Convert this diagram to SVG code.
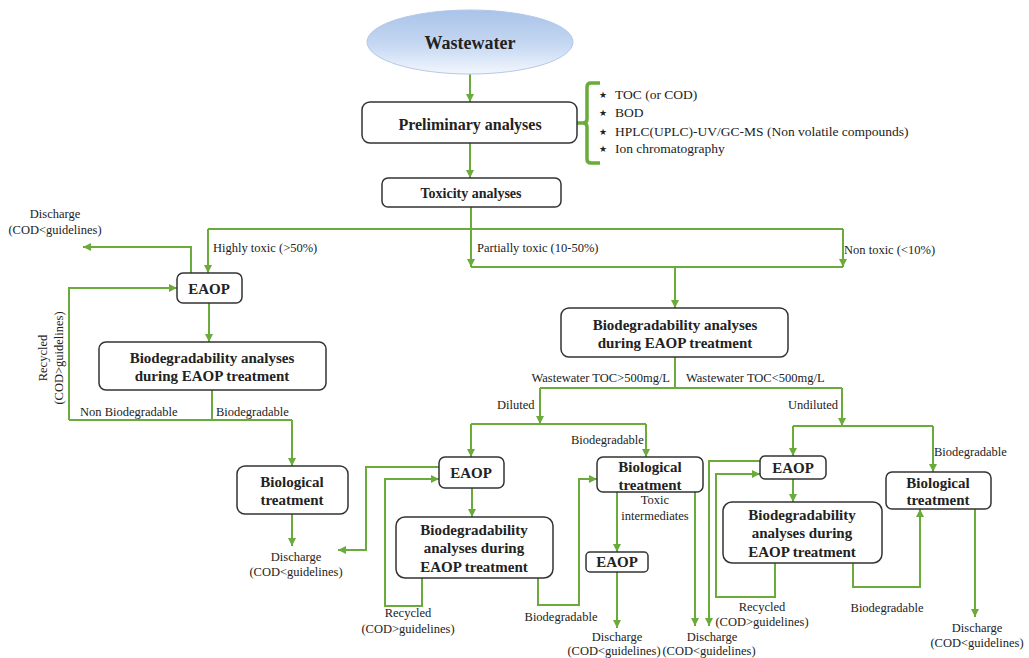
<svg xmlns="http://www.w3.org/2000/svg" width="1029" height="658" viewBox="0 0 1029 658">
<defs>
<linearGradient id="ww" x1="0" y1="0" x2="0" y2="1">
<stop offset="0" stop-color="#a9c3e9"/>
<stop offset="0.55" stop-color="#c6d8f2"/>
<stop offset="1" stop-color="#f3f7fd"/>
</linearGradient>
<marker id="ar" markerUnits="userSpaceOnUse" markerWidth="9" markerHeight="9" refX="8" refY="4" orient="auto">
<path d="M0,0 L8,4 L0,8 z" fill="#6aab3b"/>
</marker>
<style>
.box{fill:#fff;stroke:#333;stroke-width:1.5}
.c{fill:none;stroke:#6aab3b;stroke-width:2}
.a{marker-end:url(#ar)}
.t{font-family:"Liberation Serif","Times New Roman",serif;fill:#222}
.b{font-weight:bold;font-size:15px;text-anchor:middle}
.s{font-size:12.5px}
.m{text-anchor:middle}
</style>
</defs>
<rect width="1029" height="658" fill="#fff"/>

<g id="connectors">
<path class="c a" d="M470,74 V102"/>
<path class="c a" d="M470,143 V178"/>
<path d="M600,83 H591 Q587,83 587,87 V119 Q587,123 583,123 H574 M583,123 Q587,123 587,127 V159 Q587,163 591,163 H600" fill="none" stroke="#6aab3b" stroke-width="3.5"/>
<path class="c" d="M471,207 V229 M208,229 H843 M471,267 H843"/>
<path class="c a" d="M208,229 V273"/>
<path class="c a" d="M471,229 V267"/>
<path class="c a" d="M843,229 V267"/>
<path class="c a" d="M675,267 V308"/>
<path class="c a" d="M191,273 V247 H83"/>
<path class="c a" d="M209,303 V342"/>
<path class="c" d="M212,390 V420 M69,420 H292"/>
<path class="c a" d="M292,420 V466"/>
<path class="c a" d="M69,420 V288 H177"/>
<path class="c a" d="M292,514 V546"/>
<path class="c" d="M675,357 V388 M540,388 H842"/>
<path class="c a" d="M540,388 V424"/>
<path class="c a" d="M842,388 V426"/>
<path class="c" d="M471,424 H646"/>
<path class="c a" d="M471,424 V457"/>
<path class="c a" d="M646,424 V457"/>
<path class="c a" d="M439,467 H366 V550 H338"/>
<path class="c a" d="M422,578 V606 H385 V479 H439"/>
<path class="c a" d="M472,488 V517"/>
<path class="c a" d="M538,578 V605 H579 V479 H597"/>
<path class="c a" d="M617,492 V552"/>
<path class="c a" d="M617,572 V628"/>
<path class="c a" d="M695,492 V626"/>
<path class="c" d="M793,426 H933"/>
<path class="c a" d="M793,426 V456"/>
<path class="c a" d="M933,426 V472"/>
<path class="c a" d="M760,461 H709 V626"/>
<path class="c a" d="M775,563 V597 H716 V474 H760"/>
<path class="c a" d="M793,479 V502"/>
<path class="c a" d="M853,563 V587 H920 V509"/>
<path class="c a" d="M975,509 V617"/>
</g>

<g id="wastewater">
<ellipse cx="470" cy="42" rx="103" ry="32" fill="url(#ww)" stroke="#b3c9ea" stroke-width="1"/>
<text class="t" x="470" y="49" font-size="18" font-weight="bold" text-anchor="middle">Wastewater</text>
</g>

<g id="preliminary">
<rect class="box" x="362" y="102" width="215" height="41" rx="8"/>
<text class="t" x="470" y="130" font-size="16" font-weight="bold" text-anchor="middle">Preliminary analyses</text>
</g>

<g id="analyses-list">
<text x="603" y="98" font-family="DejaVu Sans,sans-serif" font-size="9" text-anchor="middle" fill="#222">★</text>
<text x="603" y="116" font-family="DejaVu Sans,sans-serif" font-size="9" text-anchor="middle" fill="#222">★</text>
<text x="603" y="135" font-family="DejaVu Sans,sans-serif" font-size="9" text-anchor="middle" fill="#222">★</text>
<text x="603" y="152" font-family="DejaVu Sans,sans-serif" font-size="9" text-anchor="middle" fill="#222">★</text>
<text class="t" x="615" y="99" font-size="13.5">TOC (or COD)</text>
<text class="t" x="615" y="117" font-size="13.5">BOD</text>
<text class="t" x="615" y="136" font-size="13.5">HPLC(UPLC)-UV/GC-MS (Non volatile compounds)</text>
<text class="t" x="615" y="153" font-size="13.5">Ion chromatography</text>
</g>

<g id="toxicity">
<rect class="box" x="382" y="178" width="179" height="29" rx="6"/>
<text class="t" x="471" y="198" font-size="14" font-weight="bold" text-anchor="middle">Toxicity analyses</text>
</g>

<g id="labels-toxicity">
<text class="t s" x="213" y="252">Highly toxic (&gt;50%)</text>
<text class="t s" x="477" y="252">Partially toxic (10-50%)</text>
<text class="t s" x="844" y="254">Non toxic (&lt;10%)</text>
</g>

<g id="eaop-high">
<rect class="box" x="177" y="273" width="65" height="30" rx="6"/>
<text class="t b" x="209" y="294">EAOP</text>
</g>
<g id="discharge-high">
<text class="t s m" x="55" y="218">Discharge</text>
<text class="t s m" x="55" y="234">(COD&lt;guidelines)</text>
</g>
<g id="recycled-high">
<text class="t s m" x="47" y="358" transform="rotate(-90 47 358)">Recycled</text>
<text class="t s m" x="63" y="358" transform="rotate(-90 63 358)">(COD&gt;guidelines)</text>
</g>
<g id="biodeg-high">
<rect class="box" x="99" y="342" width="227" height="48" rx="7"/>
<text class="t b" x="212" y="363">Biodegradability analyses</text>
<text class="t b" x="212" y="381">during EAOP treatment</text>
</g>
<g id="labels-high">
<text class="t s" x="80" y="416">Non Biodegradable</text>
<text class="t s" x="216" y="416">Biodegradable</text>
</g>
<g id="bio-high">
<rect class="box" x="237" y="466" width="111" height="48" rx="8"/>
<text class="t b" x="292" y="487">Biological</text>
<text class="t b" x="292" y="505">treatment</text>
</g>
<g id="discharge-bio-high">
<text class="t s m" x="296" y="561">Discharge</text>
<text class="t s m" x="296" y="576">(COD&lt;guidelines)</text>
</g>

<g id="biodeg-partial">
<rect class="box" x="561" y="308" width="227" height="49" rx="8"/>
<text class="t b" x="675" y="330">Biodegradability analyses</text>
<text class="t b" x="675" y="348">during EAOP treatment</text>
</g>
<g id="labels-toc">
<text class="t s" x="670" y="382" text-anchor="end">Wastewater TOC&gt;500mg/L</text>
<text class="t s" x="686" y="382">Wastewater TOC&lt;500mg/L</text>
<text class="t s" x="497" y="409">Diluted</text>
<text class="t s" x="838" y="409" text-anchor="end">Undiluted</text>
<text class="t s" x="571" y="444">Biodegradable</text>
<text class="t s" x="934" y="456">Biodegradable</text>
</g>

<g id="eaop-diluted">
<rect class="box" x="439" y="457" width="65" height="31" rx="6"/>
<text class="t b" x="471" y="478">EAOP</text>
</g>
<g id="biodeg-diluted">
<rect class="box" x="396" y="517" width="157" height="61" rx="9"/>
<text class="t b" x="474" y="535">Biodegradability</text>
<text class="t b" x="474" y="553">analyses during</text>
<text class="t b" x="474" y="572">EAOP treatment</text>
</g>
<g id="recycled-diluted">
<text class="t s m" x="408" y="617">Recycled</text>
<text class="t s m" x="408" y="633">(COD&gt;guidelines)</text>
</g>
<g id="biodegradable-diluted">
<text class="t s m" x="561" y="621">Biodegradable</text>
</g>
<g id="bio-diluted">
<rect class="box" x="597" y="457" width="106" height="35" rx="6"/>
<text class="t b" x="650" y="472">Biological</text>
<text class="t b" x="650" y="490">treatment</text>
</g>
<g id="toxic-intermediates">
<text class="t s m" x="655" y="504">Toxic</text>
<text class="t s m" x="655" y="520">intermediates</text>
</g>
<g id="eaop-small">
<rect class="box" x="586" y="552" width="62" height="20" rx="4"/>
<text class="t b" x="617" y="567">EAOP</text>
</g>
<g id="discharge-diluted">
<text class="t s m" x="617" y="641">Discharge</text>
<text class="t s m" x="614" y="655">(COD&lt;guidelines)</text>
<text class="t s m" x="712" y="641">Discharge</text>
<text class="t s m" x="709" y="655">(COD&lt;guidelines)</text>
</g>

<g id="eaop-undiluted">
<rect class="box" x="760" y="456" width="66" height="23" rx="5"/>
<text class="t b" x="793" y="473">EAOP</text>
</g>
<g id="biodeg-undiluted">
<rect class="box" x="723" y="502" width="159" height="61" rx="9"/>
<text class="t b" x="802" y="520">Biodegradability</text>
<text class="t b" x="802" y="538">analyses during</text>
<text class="t b" x="802" y="557">EAOP treatment</text>
</g>
<g id="recycled-undiluted">
<text class="t s m" x="762" y="611">Recycled</text>
<text class="t s m" x="762" y="626">(COD&gt;guidelines)</text>
</g>
<g id="biodegradable-undiluted">
<text class="t s m" x="887" y="612">Biodegradable</text>
</g>
<g id="bio-undiluted">
<rect class="box" x="886" y="472" width="105" height="37" rx="6"/>
<text class="t b" x="938" y="488">Biological</text>
<text class="t b" x="938" y="505">treatment</text>
</g>
<g id="discharge-undiluted">
<text class="t s m" x="977" y="632">Discharge</text>
<text class="t s m" x="977" y="647">(COD&lt;guidelines)</text>
</g>
</svg>
